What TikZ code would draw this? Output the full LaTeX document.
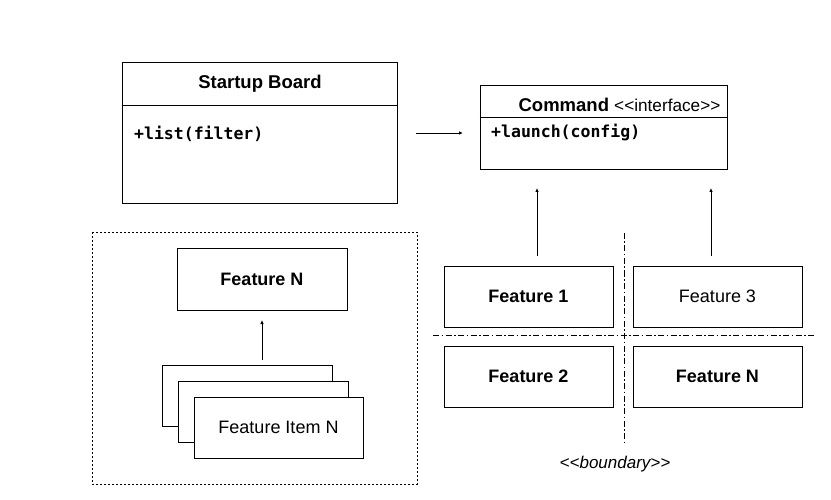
\documentclass[tikz,border=0pt]{standalone}
\usepackage{fontspec}
\setmainfont{Liberation Sans}[Ligatures=TeXOff]
\newfontfamily\codefont{DejaVu Sans Mono}
\usetikzlibrary{calc,arrows.meta}
\begin{document}
\begin{tikzpicture}[x=1pt,y=-1pt,
  box/.style={draw,line width=0.9pt,inner sep=0pt,minimum width=#1},
  lbl/.style={font=\fontsize{18}{21}\selectfont},
  code/.style={font=\codefont\bfseries\fontsize{16.5}{19}\selectfont,anchor=west,inner sep=0pt},
  arr/.style={line width=0.9pt,-{Latex[length=4pt,width=3.5pt]}},
  dashdot/.style={line width=0.8pt,dash pattern=on 6pt off 2.5pt on 1.5pt off 2.5pt}]
\useasboundingbox (0,0) rectangle (831,500);
% Startup Board
\node[box=275pt,minimum height=141pt] (sb) at (259.5,132.5) {};
\draw[line width=0.9pt] ($(sb.north west)+(0,44)$) coordinate (sbl) -- ($(sb.north east)+(0,44)$) coordinate (sbr);
\node[font=\fontsize{18.5}{21}\selectfont\bfseries] (sbt) at (260,84) {Startup Board};
\node[code] (sbm) at (134,134) {+list(filter)};
% Command
\node[box=247pt,minimum height=84pt] (cmd) at (603.5,127) {};
\draw[line width=0.9pt] ($(cmd.north west)+(0,33)$) coordinate (cl) -- ($(cmd.north east)+(0,33)$) coordinate (cr);
\node[font=\fontsize{18.5}{21}\selectfont] (cmdt) at (619.5,105) {\textbf{Command} {\fontsize{17.2}{19}\selectfont<<interface>>}};
\node[code] (cmdm) at (491,133) {+launch(config)};
% arrow between
\coordinate (a1s) at (416,133);
\coordinate (a1e) at (463,133);
\draw[arr] (a1s) -- (a1e);
% Features right
\node[box=169pt,minimum height=61pt,lbl] (f1) at (528.5,296.5) {\textbf{Feature 1}};
\node[box=169pt,minimum height=61pt,lbl] (f3) at (717.5,296.5) {Feature 3};
\node[box=169pt,minimum height=61pt,lbl] (f2) at (528.5,376.5) {\textbf{Feature 2}};
\node[box=169pt,minimum height=61pt,lbl] (fn) at (717.5,376.5) {\textbf{Feature N}};
\coordinate (u1s) at (537,256); \coordinate (u1e) at (537,188);
\coordinate (u2s) at (711,256); \coordinate (u2e) at (711,188);
\draw[arr] (u1s) -- (u1e);
\draw[arr] (u2s) -- (u2e);
\coordinate (vt) at (624,233); \coordinate (vb) at (624,445);
\coordinate (hl) at (433,335); \coordinate (hr) at (815,335);
\draw[dashdot] (vt) -- (vb);
\draw[dashdot] (hl) -- (hr);
\node[font=\fontsize{17}{20}\selectfont\itshape] (bd) at (615,464) {<<boundary>>};
% left group
\draw[line width=0.8pt,dash pattern=on 2pt off 2pt] (92,232) rectangle (417,484);
\node[box=170pt,minimum height=62pt,lbl] (fl) at (262,279) {\textbf{Feature N}};
\node[box=170pt,minimum height=61pt,fill=white] (st1) at (247,396) {};
\node[box=170pt,minimum height=61pt,fill=white] (st2) at (263,411.5) {};
\node[box=169pt,minimum height=61pt,fill=white,lbl] (st3) at (278.5,427.5) {Feature Item N};
\coordinate (u3s) at (262,360); \coordinate (u3e) at (262,320);
\draw[arr] (u3s) -- (u3e);
\end{tikzpicture}
\end{document}
